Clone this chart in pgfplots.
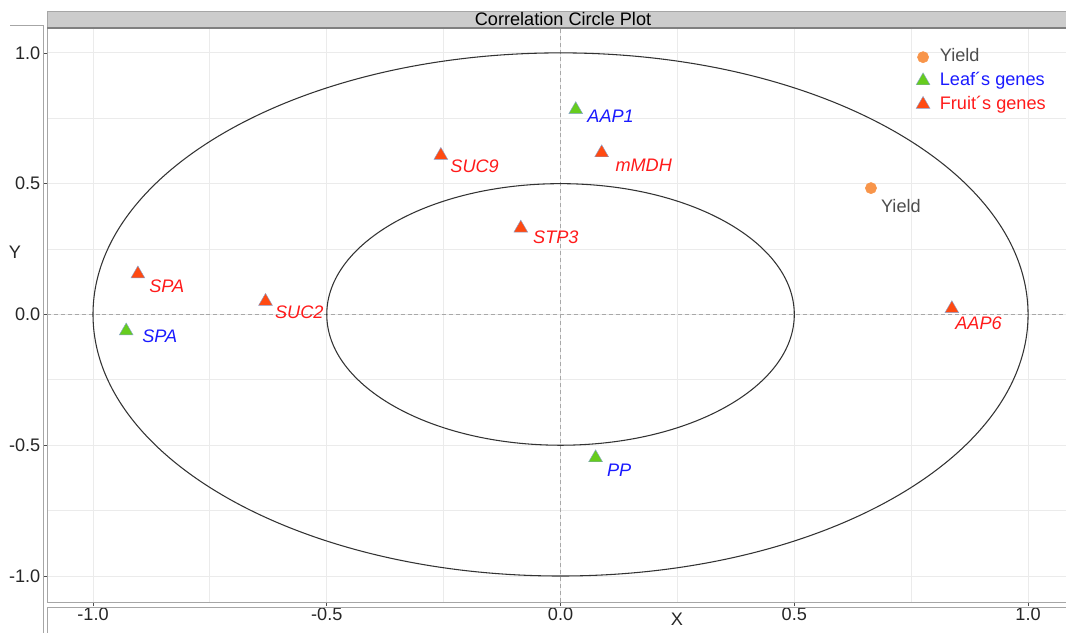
\documentclass[border=0pt]{standalone}
\usepackage{fontspec}
\setmainfont{Liberation Sans}
\usepackage{pgfplots}
\pgfplotsset{compat=1.18}

\definecolor{yieldc}{HTML}{F8954A}
\definecolor{leafc}{HTML}{66CC1E}
\definecolor{fruitc}{HTML}{FF4A12}
\definecolor{edgec}{HTML}{86A2D2}
\definecolor{redtxt}{HTML}{FF1A1A}
\definecolor{bluetxt}{HTML}{1A1AFF}
\definecolor{graytxt}{HTML}{4D4D4D}
\definecolor{gridc}{HTML}{EBEBEB}
\definecolor{framec}{HTML}{A6A6A6}
\definecolor{stripc}{HTML}{CCCCCC}
\definecolor{dashc}{HTML}{A8A8A8}
\definecolor{ellc}{HTML}{333333}

\begin{document}
\fontsize{13.6}{16}\selectfont
\begin{tikzpicture}
% panel: 1 unit of the scope below = one pixel of the final image
\begin{axis}[
  at={(35.25pt,-451.5pt)}, anchor=south west,
  scale only axis, width=770.85pt, height=430.6pt,
  xmin=-1.0984, xmax=1.1, ymin=-1.0994, ymax=1.0956,
  xtick={-1,-0.5,0,0.5,1}, ytick={-1,-0.5,0,0.5,1},
  minor xtick={-0.75,-0.25,0.25,0.75},
  minor ytick={-0.75,-0.25,0.25,0.75},
  grid=both,
  major grid style={draw=gridc, line width=0.6pt},
  minor grid style={draw=gridc, line width=0.6pt},
  tick align=outside, tick pos=left,
  major tick length=3pt, minor tick length=0pt,
  tick style={draw=black!70, line width=0.5pt},
  axis line style={draw=framec, line width=0.7pt},
  xticklabel={\pgfmathprintnumber[fixed,fixed zerofill,precision=1,assume math mode=true]{\tick}},
  yticklabel={\pgfmathprintnumber[fixed,fixed zerofill,precision=1,assume math mode=true]{\tick}},
  xticklabel style={anchor=north, inner sep=0pt, yshift=-1.5pt, text=black!85},
  yticklabel style={anchor=east, inner sep=0pt, xshift=-1.8pt, text=black!85},
  legend cell align=left,
  legend image code/.code={\draw[#1] plot coordinates {(0pt,0pt)};},
  legend style={at={(axis cs:0.7515,1.031)}, anchor=north west,
    draw=none, fill=none, row sep=3.5pt, column sep=6.8pt,
    nodes={inner sep=0.6pt, text height=10pt, text depth=3pt}},
]
% reference axes through the origin
\draw[dashc, line width=0.6pt, dash pattern=on 3pt off 2.2pt] (axis cs:0,-1.0994) -- (axis cs:0,1.0956);
\draw[dashc, line width=0.6pt, dash pattern=on 3pt off 2.2pt] (axis cs:-1.0984,0) -- (axis cs:1.1,0);
% unit and half-unit correlation circles
\draw[ellc, line width=0.8pt] (axis cs:0,0) ellipse [x radius=1, y radius=1];
\draw[ellc, line width=0.8pt] (axis cs:0,0) ellipse [x radius=0.5, y radius=0.5];

\addplot[only marks, mark=*, mark size=4.2pt, draw=yieldc, fill=yieldc]
  coordinates {(0.664,0.483)};
\addlegendentry{\textcolor{graytxt}{Yield}}

% leaf genes: AAP1, SPA, PP
\addplot[only marks, mark=triangle*, mark size=6pt,
  mark options={fill=leafc, draw=edgec, line width=0.3pt}]
  coordinates {(0.0325,0.783) (-0.929,-0.063) (0.075,-0.548)};
\addlegendentry{\textcolor{bluetxt}{Leaf´s genes}}

% fruit genes: SPA, SUC2, SUC9, mMDH, STP3, AAP6
\addplot[only marks, mark=triangle*, mark size=6pt,
  mark options={fill=fruitc, draw=edgec, line width=0.3pt}]
  coordinates {(-0.904,0.155) (-0.631,0.050) (-0.256,0.608) (0.088,0.618) (-0.085,0.330) (0.837,0.022)};
\addlegendentry{\textcolor{redtxt}{Fruit´s genes}}

% variable names
\begin{scope}[every node/.style={anchor=west, inner sep=0pt, font=\itshape}]
\node[text=bluetxt] at (axis cs:0.057,0.759) {AAP1};
\node[text=bluetxt] at (axis cs:-0.895,-0.084) {SPA};
\node[text=bluetxt] at (axis cs:0.099,-0.595) {PP};
\node[text=redtxt] at (axis cs:-0.880,0.109) {SPA};
\node[text=redtxt] at (axis cs:-0.611,0.010) {SUC2};
\node[text=redtxt] at (axis cs:-0.236,0.566) {SUC9};
\node[text=redtxt] at (axis cs:0.117,0.572) {mMDH};
\node[text=redtxt] at (axis cs:-0.059,0.294) {STP3};
\node[text=redtxt] at (axis cs:0.844,-0.033) {AAP6};
\node[text=graytxt, font=\upshape] at (axis cs:0.685,0.415) {Yield};
\end{scope}
\end{axis}

\begin{scope}[x=0.75pt, y=-0.75pt]
% strip with the title
\fill[stripc] (47,11) rectangle (1090,28);
\draw[framec, line width=0.7pt] (47,28) -- (47,11) -- (1090,11);
\draw[black!50, line width=0.9pt] (47,28) -- (1090,28);
\node[inner sep=0pt] at (563,19.5) {Correlation Circle Plot};
% frames of the tick-label regions
\draw[framec, line width=0.6pt] (10,25) -- (43,25) -- (43,640);
\draw[framec, line width=0.6pt] (47,640) -- (47,607) -- (1090,607);
% axis titles
\node[inner sep=0pt, text=black!85] at (15,252) {Y};
\node[inner sep=0pt, text=black!85] at (677,619) {X};
\pgfresetboundingbox
\useasboundingbox (0,0) rectangle (1066,632);
\end{scope}
\end{tikzpicture}
\end{document}
